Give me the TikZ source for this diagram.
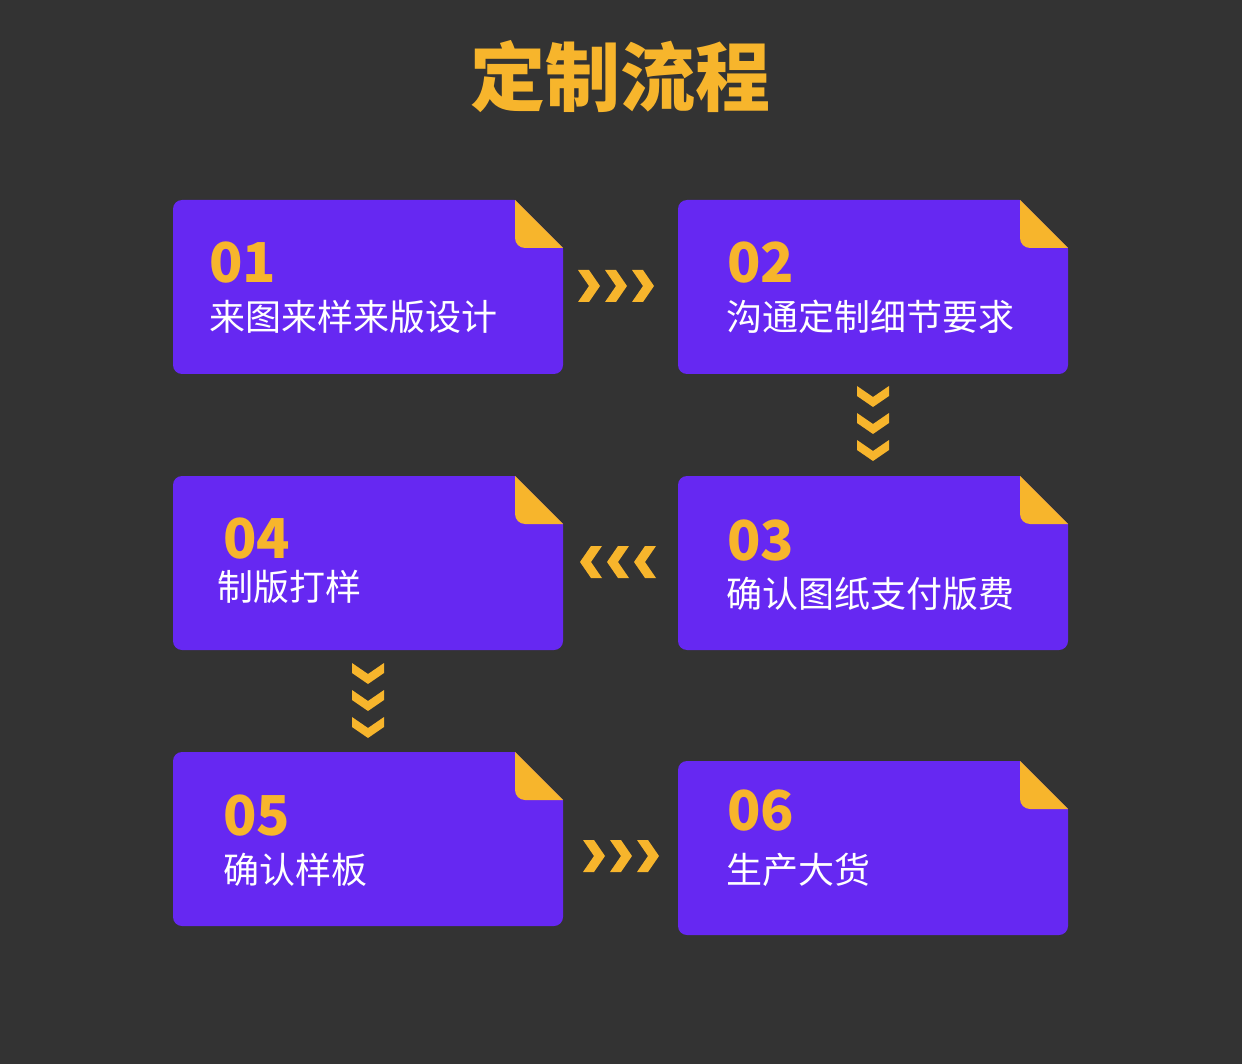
\documentclass[tikz,border=0pt]{standalone}
\usepackage{fontspec}
\newfontfamily\cjk{Noto Sans CJK SC}
\usetikzlibrary{calc}
\definecolor{bg}{HTML}{333333}
\definecolor{purp}{HTML}{6628F2}
\definecolor{yel}{HTML}{F7B52C}
\tikzset{
  card/.style={minimum width=390, minimum height=174, inner sep=0, outer sep=0, draw=none},
  numtxt/.style={font=\cjk\bfseries\fontsize{55}{60}\selectfont, text=yel, anchor=base west, inner sep=0},
  steptxt/.style={font=\cjk\fontsize{36}{40}\selectfont, text=white, anchor=base west, inner sep=0},
  chev/.style={fill=yel}
}
% name, cx, cy, num, text, numdx, numdy, txtdx, txtdy
\newcommand\stepcard[9]{%
  \node[card] (#1) at (#2,#3) {};
  \fill[purp, rounded corners=9] (#1.north west) rectangle (#1.south east);
  \fill[bg] ($(#1.north east)+(-49,-1)$) -- ($(#1.north east)+(1,-1)$) -- ($(#1.north east)+(1,49)$) -- cycle;
  \fill[yel] ($(#1.north east)+(-48,0)$) -- ($(#1.north east)+(-48,38)$) arc[start angle=180,end angle=90,radius=10] -- ($(#1.north east)+(0,48)$) -- cycle;
  \node[numtxt] (#1num) at ($(#1.north west)+(#6,#7)$) {#4};
  \node[steptxt] (#1txt) at ($(#1.north west)+(#8,#9)$) {#5};
}
\newcommand\chevright[1]{\fill[chev, shift={#1}] (0,0)--(11,0)--(22,16)--(11,32)--(0,32)--(11,16)--cycle;}
\newcommand\chevleft[1]{\fill[chev, shift={#1}] (22,0)--(11,0)--(0,16)--(11,32)--(22,32)--(11,16)--cycle;}
\newcommand\chevdown[1]{\fill[chev, shift={#1}] (0,0)--(16,11)--(32,0)--(32,10)--(16,21)--(0,10)--cycle;}
\begin{document}
\begin{tikzpicture}[x=1pt,y=-1pt]
\useasboundingbox (0,0) rectangle (1242,1064);
\fill[bg] (0,0) rectangle (1242,1064);
\node[font=\cjk\bfseries\fontsize{75}{80}\selectfont, text=yel, anchor=base, inner sep=0] (title) at (620,106) {定制流程};
\stepcard{b1}{368}{287}{01}{来图来样来版设计}{36}{83}{36}{131}
\stepcard{b2}{873}{287}{02}{沟通定制细节要求}{49}{83}{48}{131}
\stepcard{b3}{873}{563}{03}{确认图纸支付版费}{49}{84}{48}{131}
\stepcard{b4}{368}{563}{04}{制版打样}{50}{82}{44}{124}
\stepcard{b5}{368}{839}{05}{确认样板}{50}{83}{50}{131}
\stepcard{b6}{873}{848}{06}{生产大货}{49}{69}{48}{122}
% chevrons b1 -> b2
\foreach \i in {0,1,2}{\chevright{($(b1.east)+(15+27*\i,-17)$)}}
% b2 -> b3
\foreach \i in {0,1,2}{\chevdown{($(b2.south)+(-16,12+27*\i)$)}}
% b3 -> b4
\foreach \i in {0,1,2}{\chevleft{($(b3.west)+(-98+27*\i,-17)$)}}
% b4 -> b5
\foreach \i in {0,1,2}{\chevdown{($(b4.south)+(-16,13+27*\i)$)}}
% b5 -> b6
\foreach \i in {0,1,2}{\chevright{($(b5.east)+(20+27*\i,1)$)}}
\end{tikzpicture}
\end{document}
